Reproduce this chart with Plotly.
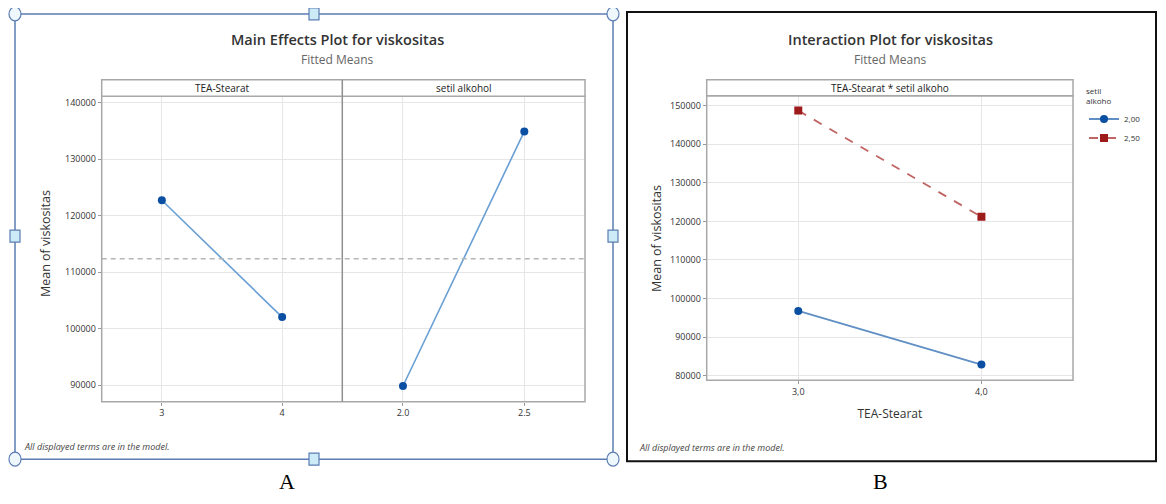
import plotly.graph_objects as go

# ---------------- data ----------------
tea_levels = [3, 4]
tea_ticktext = ["3", "4"]
tea_means = [122750, 102050]

setil_levels = [2.0, 2.5]
setil_ticktext = ["2.0", "2.5"]
setil_means = [89850, 134950]

grand_mean = 112400

inter_tea = [3.0, 4.0]
inter_ticktext = ["3,0", "4,0"]
inter_setil_200 = [96800, 82900]
inter_setil_250 = [148700, 121200]
legend_names = ["2,00", "2,50"]

y_ticks_a = [90000, 100000, 110000, 120000, 130000, 140000]
y_ticks_b = [80000, 90000, 100000, 110000, 120000, 130000, 140000, 150000]

# ---------------- layout helpers ----------------
# the page body has an 8px margin, so the figure is 16px smaller and shifted
OFF = 8
W, H = 1166 - 2 * OFF, 504 - 2 * OFF


def px(x):
    return (x - OFF) / W


def py(y):
    return 1 - (y - OFF) / H


FONT = "Open Sans"
BLUE_LINE = "#6a9fd4"
BLUE_MARK = "#0b4fa3"
RED_LINE = "#c06464"
RED_MARK = "#9e1b1b"
GRID = "#e6e6e6"
BORDER = "#a8a8a8"

# plot areas (pixels in the screenshot)
A_L, A_MID, A_R, A_T, A_B, A_STRIP = 101.7, 342.3, 585, 96.7, 403.3, 80
B_L, B_R, B_T, B_B, B_STRIP = 706.7, 1073, 96, 381.7, 80

fig = go.Figure()

fig.add_trace(go.Scatter(x=tea_levels, y=tea_means, mode="lines+markers",
                         line=dict(color=BLUE_LINE, width=1.6),
                         marker=dict(color=BLUE_MARK, size=8, symbol="circle"),
                         xaxis="x", yaxis="y", showlegend=False))
fig.add_trace(go.Scatter(x=setil_levels, y=setil_means, mode="lines+markers",
                         line=dict(color=BLUE_LINE, width=1.6),
                         marker=dict(color=BLUE_MARK, size=8, symbol="circle"),
                         xaxis="x2", yaxis="y", showlegend=False))
fig.add_trace(go.Scatter(x=inter_tea, y=inter_setil_200, mode="lines+markers",
                         name=legend_names[0],
                         line=dict(color="#5f8fc4", width=1.8),
                         marker=dict(color=BLUE_MARK, size=8, symbol="circle"),
                         xaxis="x3", yaxis="y2"))
fig.add_trace(go.Scatter(x=inter_tea, y=inter_setil_250, mode="lines+markers",
                         name=legend_names[1],
                         line=dict(color=RED_LINE, width=1.8, dash="dash"),
                         marker=dict(color=RED_MARK, size=8, symbol="square"),
                         xaxis="x3", yaxis="y2"))

tick_font = dict(family=FONT, size=9, color="#333")
common_x = dict(showgrid=True, gridcolor=GRID, gridwidth=1, zeroline=False,
                ticks="outside", ticklen=3, tickcolor="#999", tickfont=tick_font,
                showline=False, fixedrange=True, tickmode="array")
common_y = dict(showgrid=True, gridcolor=GRID, gridwidth=1, zeroline=False,
                ticks="outside", ticklen=3, tickcolor="#999", tickfont=tick_font,
                showline=False, tickformat="d", fixedrange=True, tickmode="array")

fig.update_layout(
    width=W, height=H, autosize=False,
    margin=dict(l=0, r=0, t=0, b=0),
    paper_bgcolor="white", plot_bgcolor="white",
    font=dict(family=FONT, color="#333"),
    xaxis=dict(common_x, domain=[px(A_L), px(A_MID)], range=[2.5, 4.5],
               tickvals=tea_levels, ticktext=tea_ticktext, anchor="y"),
    xaxis2=dict(common_x, domain=[px(A_MID), px(A_R)], range=[1.75, 2.75],
                tickvals=setil_levels, ticktext=setil_ticktext, anchor="y"),
    yaxis=dict(common_y, domain=[py(A_B), py(A_T)], range=[87070, 141160],
               tickvals=y_ticks_a, anchor="x"),
    xaxis3=dict(common_x, domain=[px(B_L), px(B_R)], range=[2.5, 4.5],
                tickvals=inter_tea, ticktext=inter_ticktext, anchor="y2",
                title=dict(text="TEA-Stearat", font=dict(family=FONT, size=12, color="#333"),
                           standoff=12)),
    yaxis2=dict(common_y, domain=[py(B_B), py(B_T)], range=[78870, 152580],
                tickvals=y_ticks_b, anchor="x3"),
    legend=dict(x=px(1084), y=py(84), xanchor="left", yanchor="top",
                bgcolor="rgba(0,0,0,0)", font=dict(family=FONT, size=8, color="#333"),
                title=dict(text="setil<br>alkoho", font=dict(family=FONT, size=8, color="#333")),
                itemwidth=30, tracegroupgap=0),
)

shapes = []
# grand mean line across main effects panels
shapes.append(dict(type="line", xref="paper", yref="y", x0=px(A_L), x1=px(A_R),
                   y0=grand_mean, y1=grand_mean,
                   line=dict(color="#b5b5b5", width=1.5, dash="5px,4px")))
# plot borders
for (l, t, r, b) in [(A_L, A_T, A_R, A_B), (B_L, B_T, B_R, B_B)]:
    shapes.append(dict(type="rect", xref="paper", yref="paper", x0=px(l), x1=px(r),
                       y0=py(b), y1=py(t), line=dict(color=BORDER, width=1.5)))
# strips
shapes.append(dict(type="rect", xref="paper", yref="paper", x0=px(A_L), x1=px(A_R),
                   y0=py(A_T), y1=py(A_STRIP), line=dict(color=BORDER, width=1.5),
                   fillcolor="white"))
shapes.append(dict(type="rect", xref="paper", yref="paper", x0=px(B_L), x1=px(B_R),
                   y0=py(B_T), y1=py(B_STRIP), line=dict(color=BORDER, width=1.5),
                   fillcolor="white"))
# divider between main effect panels
shapes.append(dict(type="line", xref="paper", yref="paper", x0=px(A_MID), x1=px(A_MID),
                   y0=py(A_B), y1=py(A_STRIP), line=dict(color="#8f8f8f", width=1.5)))
# frame A (selected picture, blue)
FRAME_BLUE = "#5b7db3"
shapes.append(dict(type="rect", xref="paper", yref="paper", x0=px(15), x1=px(613),
                   y0=py(461), y1=py(14), line=dict(color=FRAME_BLUE, width=1.5)))
for (cx, cy) in [(15, 14), (613, 14), (15, 461), (613, 461)]:
    shapes.append(dict(type="circle", xref="paper", yref="paper",
                       x0=px(cx - 6), x1=px(cx + 6), y0=py(cy + 7), y1=py(cy - 7),
                       line=dict(color=FRAME_BLUE, width=1.2), fillcolor="#eef7fb"))
for (cx, cy) in [(314, 14), (314, 461), (15, 237), (613, 237)]:
    shapes.append(dict(type="rect", xref="paper", yref="paper",
                       x0=px(cx - 5), x1=px(cx + 5), y0=py(cy + 6), y1=py(cy - 6),
                       line=dict(color=FRAME_BLUE, width=1.2), fillcolor="#cdebf7"))
# frame B (black)
shapes.append(dict(type="rect", xref="paper", yref="paper", x0=px(627), x1=px(1156),
                   y0=py(463), y1=py(12), line=dict(color="#111", width=2)))
fig.update_layout(shapes=shapes)

ann = []


def text(x, y, s, size, color="#333", weight=None, italic=False, family=FONT,
         xanchor="center", angle=0):
    f = dict(family=family, size=size, color=color)
    if weight:
        f["weight"] = weight
    if italic:
        f["style"] = "italic"
    ann.append(dict(x=px(x), y=py(y), xref="paper", yref="paper", text=s, showarrow=False,
                    font=f, xanchor=xanchor, yanchor="middle", textangle=angle))


# panel A texts
text(337, 40, "Main Effects Plot for viskositas", 14.5, "#333", weight=600)
text(337, 60, "Fitted Means", 12, "#666")
text((A_L + A_MID) / 2, 88.5, "TEA-Stearat", 10, "#222")
text((A_MID + A_R) / 2, 88.5, "setil alkohol", 10, "#222")
text(45, 245, "Mean of viskositas", 12.5, "#333", angle=-90)
text(22, 448, "All displayed terms are in the model.", 9, "#444", italic=True, xanchor="left")
# panel B texts
text(890, 40, "Interaction Plot for viskositas", 14.5, "#333", weight=600)
text(890, 60, "Fitted Means", 12, "#666")
text((B_L + B_R) / 2, 88, "TEA-Stearat * setil alkoho", 10, "#222")
text(656, 240, "Mean of viskositas", 12.5, "#333", angle=-90)
text(637, 449, "All displayed terms are in the model.", 9, "#444", italic=True, xanchor="left")
# panel letters
text(287, 483, "A", 22, "#000", family="Liberation Serif")
text(880, 483, "B", 22, "#000", family="Liberation Serif")
fig.update_layout(annotations=ann)

fig.write_html("out.html")
